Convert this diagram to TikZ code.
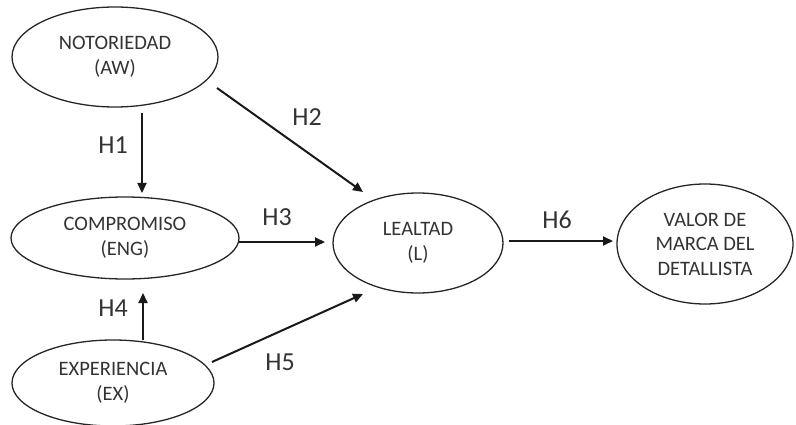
\documentclass[tikz,border=0pt]{standalone}
\usepackage{fontspec}
\setmainfont{Carlito}
\usetikzlibrary{shapes.geometric,arrows.meta,calc}

\tikzset{
  construct/.style={draw=black!85, line width=1.3pt, ellipse, inner sep=0pt,
    align=center, text=black!80, font=\fontsize{20.5}{24.5}\selectfont},
  hyp/.style={-{Triangle[length=10pt,width=9pt]}, line width=2pt, draw=black!90},
  hlabel/.style={inner sep=0pt, text=black!80, font=\fontsize{26}{30}\selectfont}
}

\begin{document}
\begin{tikzpicture}[x=1pt, y=-1pt]
    \useasboundingbox (0,0) rectangle (796,425);

    \node[construct, minimum width=206pt, minimum height=100pt] (aw) at (115,57) {NOTORIEDAD\\(AW)};
    \node[construct, minimum width=228pt, minimum height=82pt] (eng) at (125,238) {COMPROMISO\\(ENG)};
    \node[construct, minimum width=202pt, minimum height=86pt] (ex) at (113,383) {EXPERIENCIA\\(EX)};
    \node[construct, minimum width=170pt, minimum height=100pt] (l) at (418,243) {LEALTAD\\(L)};
    \node[construct, minimum width=176pt, minimum height=120pt] (val) at (705,244) {VALOR DE\\MARCA DEL\\DETALLISTA};

    \draw[hyp] ($(aw)+(27,56)$) -- ($(eng)+(17,-45)$);
    \draw[hyp] ($(aw)+(102,31)$) -- ($(l)+(-55,-51)$);
    \draw[hyp] ($(eng)+(114,4)$) -- ($(l)+(-93,-1)$);
    \draw[hyp] ($(ex)+(30,-43)$) -- ($(eng)+(18,55)$);
    \draw[hyp] ($(ex)+(99,-21)$) -- ($(l)+(-55,51)$);
    \draw[hyp] ($(l)+(91,-2)$) -- ($(val)+(-92,-3)$);

    \node[hlabel] (h1) at (113,145) {H1};
    \node[hlabel] (h2) at (307,117) {H2};
    \node[hlabel] (h3) at (277,217) {H3};
    \node[hlabel] (h4) at (113,308) {H4};
    \node[hlabel] (h5) at (280,362) {H5};
    \node[hlabel] (h6) at (557,220) {H6};
  \end{tikzpicture}
\end{document}
